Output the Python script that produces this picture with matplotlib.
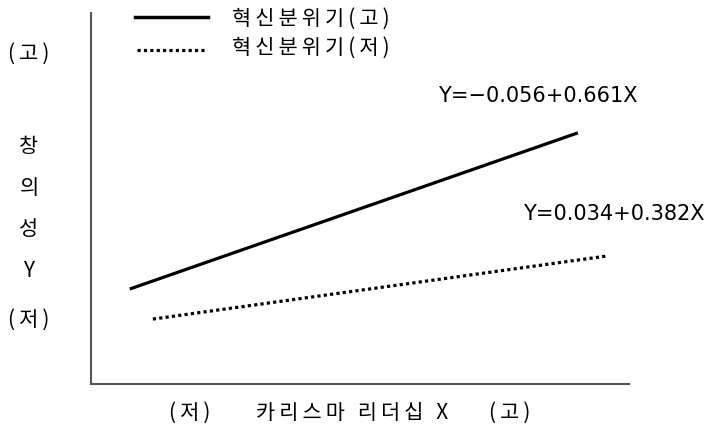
import matplotlib.pyplot as plt

plt.rcParams['font.family'] = ['Noto Sans CJK KR', 'DejaVu Sans']

# axes units 0..10
high_x = [0.72, 9.05]
high_y = [2.56, 6.77]
low_x = [1.15, 9.59]
low_y = [1.75, 3.45]

series_labels = ['혁신분위기(고)', '혁신분위기(저)']
eq_high = 'Y=\u22120.056+0.661X'
eq_low = 'Y=0.034+0.382X'
y_labels = ['(고)', '창', '의', '성', 'Y', '(저)']
x_labels = ['(저)', '카리스마 리더십 X', '(고)']


def spaced(s):
    # the original font has wide letter spacing
    return '\u2009'.join(s)


fig = plt.figure(figsize=(7.12, 4.32), dpi=100)
ax = fig.add_axes([91 / 712, 48 / 432, 538 / 712, 371 / 432])
ax.set_xlim(0, 10)
ax.set_ylim(0, 10)
for s in ['top', 'right']:
    ax.spines[s].set_visible(False)
for s in ['left', 'bottom']:
    ax.spines[s].set_color('#555555')
    ax.spines[s].set_linewidth(1.5)
ax.set_xticks([])
ax.set_yticks([])

ax.plot(high_x, high_y, color='black', lw=2.3, solid_capstyle='butt')
ax.plot(low_x, low_y, color='black', lw=2.3, linestyle=(0, (1, 1)))

tf = fig.transFigure
fig.text(438 / 712, 1 - 96 / 432, eq_high, fontsize=15, family='DejaVu Sans', va='center')
fig.text(523 / 712, 1 - 214 / 432, eq_low, fontsize=15, family='DejaVu Sans', va='center')

# legend drawn by hand
fig.add_artist(plt.Line2D([135 / 712, 208 / 712], [1 - 17 / 432] * 2, color='black', lw=2.5, transform=tf))
fig.add_artist(plt.Line2D([137 / 712, 205 / 712], [1 - 50 / 432] * 2, color='black', lw=2.3,
                          linestyle=(0, (1, 1)), transform=tf))
fig.text(232 / 712, 1 - 19 / 432, spaced(series_labels[0]), fontsize=15, va='center', ha='left')
fig.text(232 / 712, 1 - 48 / 432, spaced(series_labels[1]), fontsize=15, va='center', ha='left')

y_pos = [54, 147, 188, 229, 271, 320]
for lab, yp in zip(y_labels, y_pos):
    fig.text(29 / 712, 1 - yp / 432, spaced(lab), fontsize=15, va='center', ha='center')

x_pos = [190, 352, 510]
for lab, xp in zip(x_labels, x_pos):
    fig.text(xp / 712, 1 - 413 / 432, spaced(lab), fontsize=15, va='center', ha='center')

fig.savefig('out.png', dpi=100)
